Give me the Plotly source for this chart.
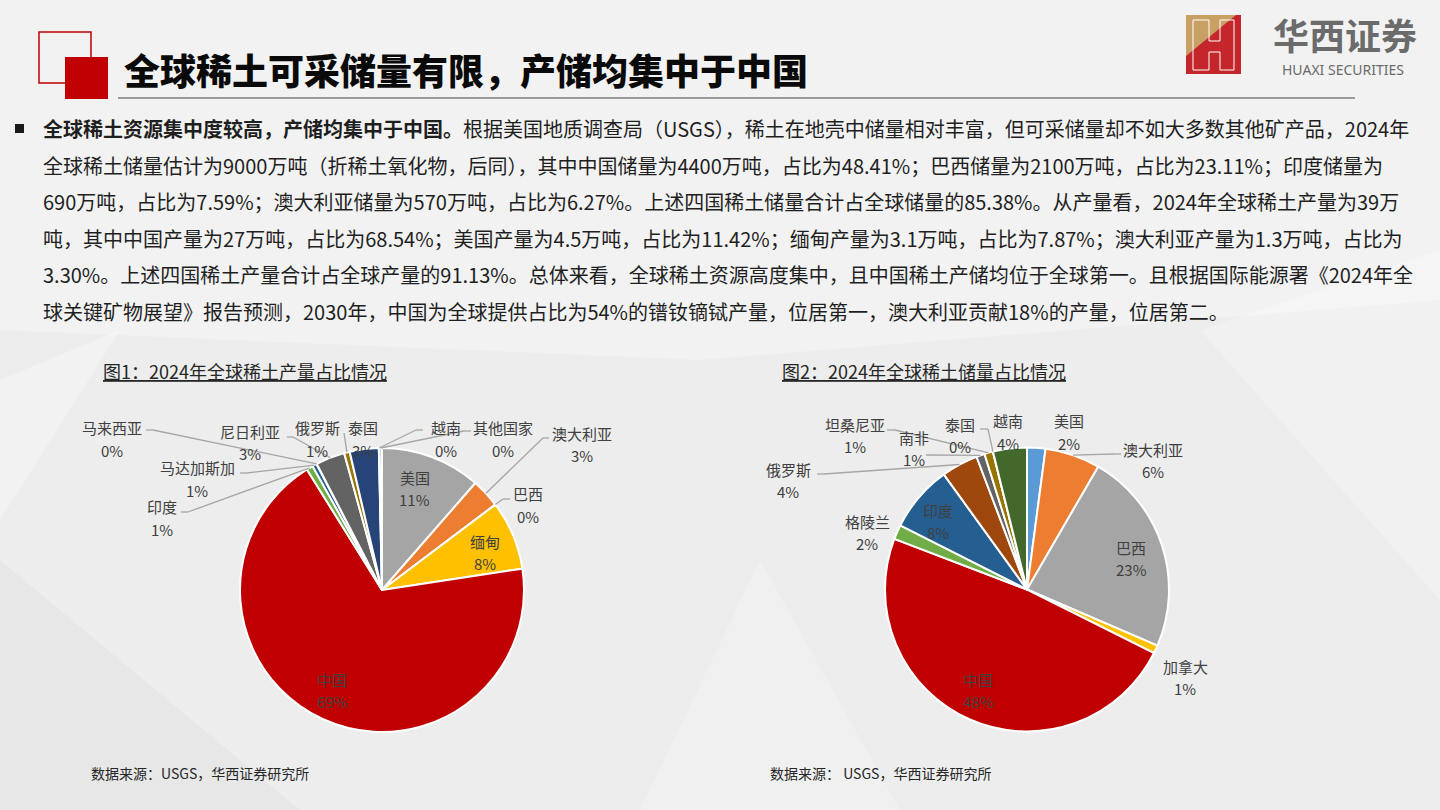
import math
import plotly.graph_objects as go

W, H = 1440, 810

# ---------------- data ----------------
# 图1：2024年全球稀土产量（吨），USGS 顺序
prod_labels = ["美国", "澳大利亚", "巴西", "缅甸", "中国", "印度", "马达加斯加",
               "马来西亚", "尼日利亚", "俄罗斯", "泰国", "越南", "其他国家"]
prod_values = [45000, 13000, 20, 31000, 270000, 2900, 2000, 130, 13000, 2500, 13000, 300, 1100]

# 图2：2024年全球稀土储量（万吨）
res_labels = ["美国", "澳大利亚", "巴西", "加拿大", "中国", "格陵兰", "印度",
              "俄罗斯", "南非", "坦桑尼亚", "泰国", "越南"]
res_values = [190, 570, 2100, 83, 4400, 150, 690, 380, 86, 89, 0.45, 350]

title_text = "全球稀土可采储量有限，产储均集中于中国"
chart1_title = "图1：2024年全球稀土产量占比情况"
chart2_title = "图2：2024年全球稀土储量占比情况"
source1 = "数据来源：USGS，华西证券研究所"
source2 = "数据来源： USGS，华西证券研究所"
para_lines = [
    "<b>全球稀土资源集中度较高，产储均集中于中国。</b>根据美国地质调查局（USGS），稀土在地壳中储量相对丰富，但可采储量却不如大多数其他矿产品，2024年",
    "全球稀土储量估计为9000万吨（折稀土氧化物，后同），其中中国储量为4400万吨，占比为48.41%；巴西储量为2100万吨，占比为23.11%；印度储量为",
    "690万吨，占比为7.59%；澳大利亚储量为570万吨，占比为6.27%。上述四国稀土储量合计占全球储量的85.38%。从产量看，2024年全球稀土产量为39万",
    "吨，其中中国产量为27万吨，占比为68.54%；美国产量为4.5万吨，占比为11.42%；缅甸产量为3.1万吨，占比为7.87%；澳大利亚产量为1.3万吨，占比为",
    "3.30%。上述四国稀土产量合计占全球产量的91.13%。总体来看，全球稀土资源高度集中，且中国稀土产储均位于全球第一。且根据国际能源署《2024年全",
    "球关键矿物展望》报告预测，2030年，中国为全球提供占比为54%的镨钕镝铽产量，位居第一，澳大利亚贡献18%的产量，位居第二。",
]

# ---------------- styles / layout positions ----------------
prod_colors = ["#A5A5A5", "#ED7D31", "#A5A5A5", "#FFC000", "#C00000", "#70AD47", "#255E91",
               "#9E480E", "#636363", "#997300", "#264478", "#43682B", "#7CAFDD"]
res_colors = ["#5B9BD5", "#ED7D31", "#A5A5A5", "#FFC000", "#C00000", "#70AD47", "#255E91",
              "#9E480E", "#636363", "#997300", "#264478", "#43682B"]

FONT = "Noto Sans CJK SC, Noto Sans, sans-serif"
LABEL_COLOR = "#404040"
LEADER_COLOR = "#A6A6A6"

P1 = dict(cx=382, cy=590, r=142)
P2 = dict(cx=1027, cy=589.5, r=142)

# label centre (px) and leader points from the label side (rim end is computed)
p1_label_layout = {
    "美国": (415, 477, None),
    "澳大利亚": (582, 433, [(549, 438), (543, 438)]),
    "巴西": (528, 494, [(510, 499), (503, 499)]),
    "缅甸": (485, 541, None),
    "中国": (332, 679, None),
    "印度": (162, 507, [(181, 512), (188, 512)]),
    "马达加斯加": (197, 468, [(240, 473), (247, 473)]),
    "马来西亚": (112, 428, [(146, 430), (153, 430)]),
    "尼日利亚": (250, 431, [(287, 437), (293, 437)]),
    "俄罗斯": (317, 428, [(344, 433)]),
    "泰国": (363, 428, None),
    "越南": (446, 428, [(423, 430), (416, 430)]),
    "其他国家": (503, 428, [(471, 431), (464, 431)]),
}
p2_label_layout = {
    "美国": (1069, 421, None),
    "澳大利亚": (1153, 449, [(1121, 454), (1114, 454)]),
    "巴西": (1131, 547, None),
    "加拿大": (1185, 666, None),
    "中国": (978, 679, None),
    "格陵兰": (867, 521, None),
    "印度": (938, 510, None),
    "俄罗斯": (788, 469, [(817, 474), (824, 474)]),
    "南非": (914, 437, [(926, 455)]),
    "坦桑尼亚": (855, 424, [(887, 430), (895, 430)]),
    "泰国": (960, 424, [(980, 429), (988, 429)]),
    "越南": (1008, 421, None),
}
PCT_DY = 22


def px(x):
    return x / W


def py(y):
    return 1 - y / H


def path(points, close=True):
    s = "M " + " L ".join(f"{px(x):.6f},{py(y):.6f}" for x, y in points)
    return s + (" Z" if close else "")


shapes = []
annotations = []


def text(x, y, s, size, color="#262626", anchor="center", weight="normal", family=FONT):
    annotations.append(dict(
        x=px(x), y=py(y), xref="paper", yref="paper", text=s, showarrow=False,
        xanchor=anchor, yanchor="middle",
        font=dict(family=family, size=size, color=color, weight=weight)))


def seg(p, q, color=LEADER_COLOR, width=1.3):
    shapes.append(dict(type="line", xref="paper", yref="paper",
                       x0=px(p[0]), y0=py(p[1]), x1=px(q[0]), y1=py(q[1]),
                       line=dict(color=color, width=width)))


# ---------------- background ----------------
bg_polys = [
    ([(0, 0), (1440, 0), (1440, 300), (700, 360), (0, 330)], "rgba(255,255,255,0.30)"),
    ([(0, 560), (300, 810), (0, 810)], "rgba(0,0,0,0.025)"),
    ([(640, 810), (760, 560), (900, 810)], "rgba(255,255,255,0.20)"),
    ([(1200, 330), (1440, 250), (1440, 600)], "rgba(255,255,255,0.25)"),
    ([(0, 380), (120, 330), (0, 520)], "rgba(255,255,255,0.30)"),
]
for pts, col in bg_polys:
    shapes.append(dict(type="path", xref="paper", yref="paper", path=path(pts),
                       fillcolor=col, line=dict(width=0), layer="below"))

# ---------------- header ----------------
shapes.append(dict(type="rect", xref="paper", yref="paper",
                   x0=px(39), y0=py(83), x1=px(91), y1=py(32),
                   line=dict(color="#C00000", width=1.5), fillcolor="rgba(0,0,0,0)"))
shapes.append(dict(type="rect", xref="paper", yref="paper",
                   x0=px(65), y0=py(99), x1=px(108), y1=py(57),
                   line=dict(width=0), fillcolor="#C00000"))
seg((118, 98), (1355, 98), color="#9A9A9A", width=2)
text(122, 69, title_text, 36, color="#0A0A0A", anchor="left", weight=900)

# logo
shapes.append(dict(type="path", xref="paper", yref="paper",
                   path=path([(1186, 15), (1241, 15), (1241, 74), (1186, 74)]),
                   fillcolor="#C4262C", line=dict(width=0)))
shapes.append(dict(type="path", xref="paper", yref="paper",
                   path=path([(1186, 15), (1236, 15), (1186, 56)]),
                   fillcolor="#C9A063", line=dict(width=0)))
shapes.append(dict(type="path", xref="paper", yref="paper",
                   path=path([(1193, 20), (1209, 20), (1209, 41), (1220, 41), (1220, 20),
                              (1234, 20), (1234, 70), (1220, 70), (1220, 52), (1209, 52),
                              (1209, 70), (1193, 70)]),
                   fillcolor="rgba(0,0,0,0)", line=dict(color="white", width=1)))
text(1345, 34, "华西证券", 36, color="#6B6B6B", weight="bold")
text(1343, 70, "HUAXI SECURITIES", 14, color="#6B6B6B", family="Noto Sans, sans-serif")

# ---------------- paragraph ----------------
shapes.append(dict(type="rect", xref="paper", yref="paper",
                   x0=px(15), y0=py(133), x1=px(24), y1=py(124),
                   line=dict(width=0), fillcolor="#1A1A1A"))
for i, line in enumerate(para_lines):
    text(41, 129 + i * 36.4, line, 20, color="#1F1F1F", anchor="left")

# ---------------- chart titles / sources ----------------
text(101, 371, f"<u>{chart1_title}</u>", 18, anchor="left")
text(780, 371, f"<u>{chart2_title}</u>", 18, anchor="left")
text(89, 773, source1, 14, anchor="left")
text(768, 773, source2, 14, anchor="left")


# ---------------- pies ----------------
def pie_domain(g):
    return dict(x=[px(g["cx"] - g["r"]), px(g["cx"] + g["r"])],
                y=[py(g["cy"] + g["r"]), py(g["cy"] - g["r"])])


def add_labels(labels, values, g, layout):
    total = sum(values)
    cum = 0.0
    for lab, v in zip(labels, values):
        mid = (cum + v / 2) / total * 360.0
        cum += v
        pct = f"{int(v / total * 100 + 0.5)}%"
        x, y, lead = layout[lab]
        text(x, y, lab, 15, color=LABEL_COLOR)
        text(x, y + PCT_DY, pct, 15, color=LABEL_COLOR)
        if lead:
            rim = (g["cx"] + g["r"] * math.sin(math.radians(mid)),
                   g["cy"] - g["r"] * math.cos(math.radians(mid)))
            pts = list(lead) + [rim]
            for a, b in zip(pts[:-1], pts[1:]):
                seg(a, b)


fig = go.Figure()
fig.add_trace(go.Pie(labels=prod_labels, values=prod_values, sort=False,
                     direction="clockwise", rotation=0, textinfo="none",
                     marker=dict(colors=prod_colors, line=dict(color="white", width=2)),
                     domain=pie_domain(P1), showlegend=False, hoverinfo="label+percent"))
fig.add_trace(go.Pie(labels=res_labels, values=res_values, sort=False,
                     direction="clockwise", rotation=0, textinfo="none",
                     marker=dict(colors=res_colors, line=dict(color="white", width=2)),
                     domain=pie_domain(P2), showlegend=False, hoverinfo="label+percent"))

add_labels(prod_labels, prod_values, P1, p1_label_layout)
add_labels(res_labels, res_values, P2, p2_label_layout)

fig.update_layout(
    width=W, height=H, margin=dict(l=0, r=0, t=0, b=0),
    paper_bgcolor="#EDEDED", plot_bgcolor="#EDEDED",
    font=dict(family=FONT),
    shapes=shapes, annotations=annotations, showlegend=False,
)
fig.write_html("out.html", config={"displayModeBar": False},
               post_script="document.body.style.margin='0';document.body.style.overflow='hidden';")
